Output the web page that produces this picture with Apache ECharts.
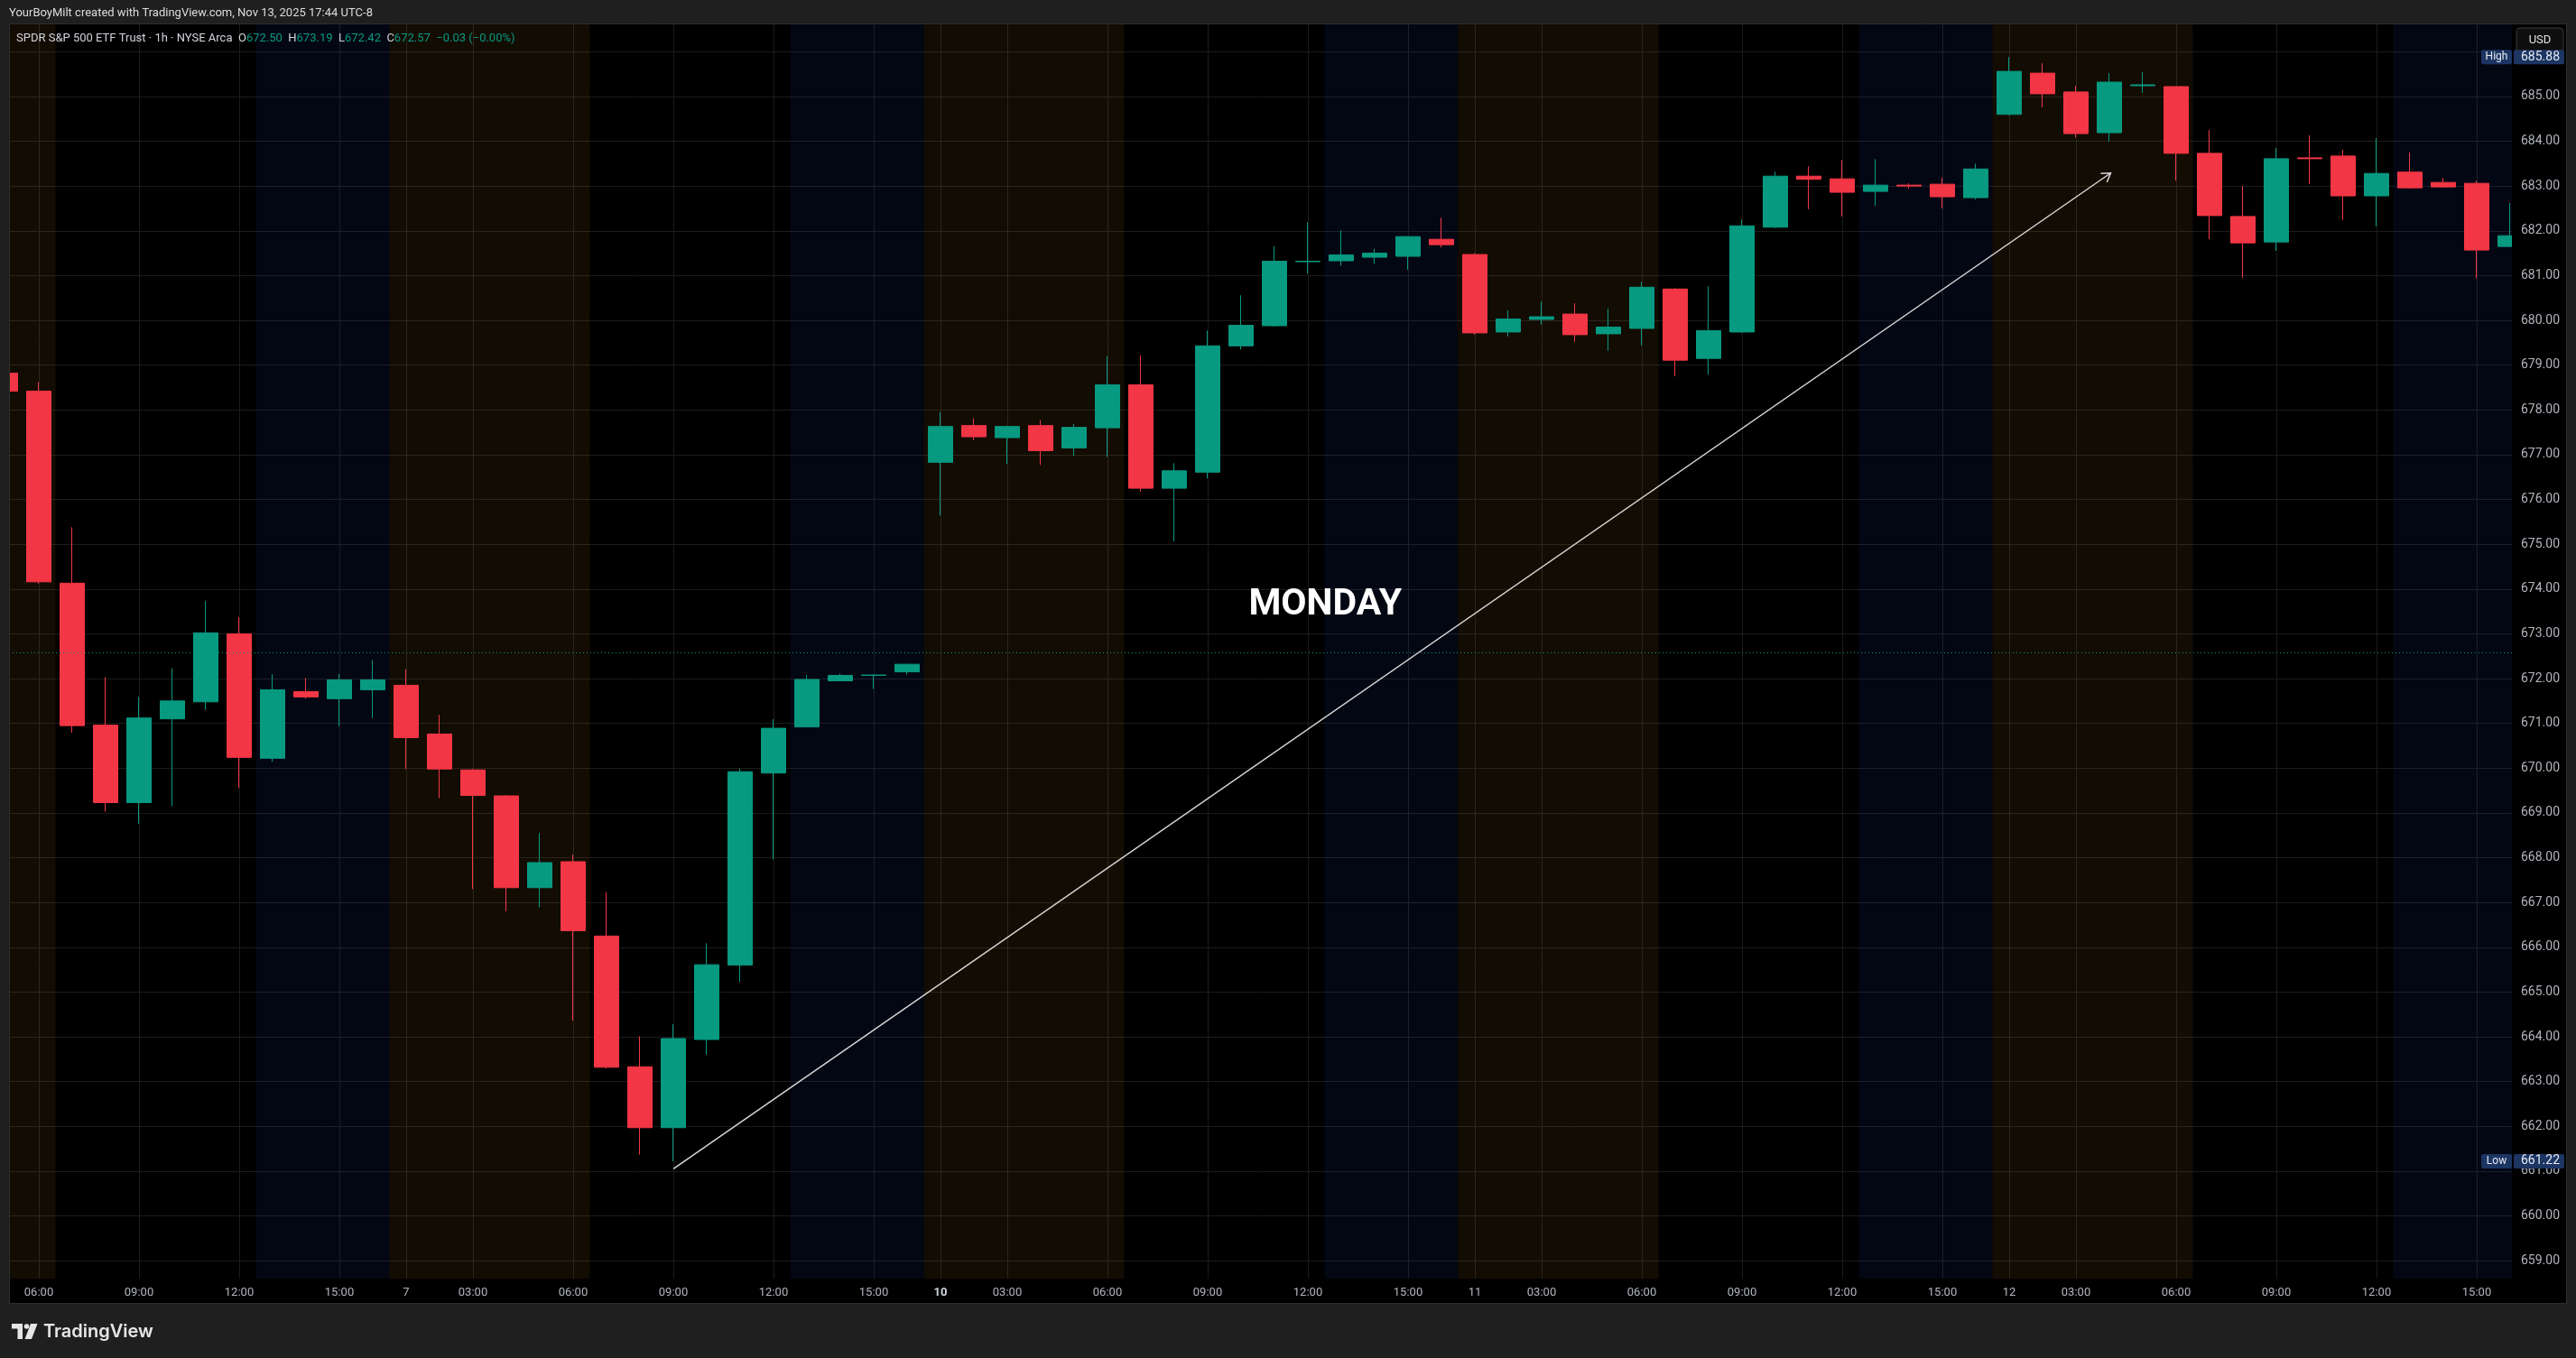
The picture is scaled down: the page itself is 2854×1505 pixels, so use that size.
<!DOCTYPE html>
<html>
<head>
<meta charset="utf-8">
<script src="https://cdn.jsdelivr.net/npm/echarts@6/dist/echarts.min.js"></script>
<style>
html,body{margin:0;padding:0;background:#1f1f1f;overflow:hidden;}
#c{width:2854px;height:1505px;}
</style>
</head>
<body>
<div id="c"></div>
<script>
// ---------- DATA ----------
const times = [
  '11-06 05:00','11-06 06:00','11-06 07:00','11-06 08:00','11-06 09:00','11-06 10:00','11-06 11:00','11-06 12:00','11-06 13:00','11-06 14:00','11-06 15:00','11-06 16:00',
  '11-07 01:00','11-07 02:00','11-07 03:00','11-07 04:00','11-07 05:00','11-07 06:00','11-07 07:00','11-07 08:00','11-07 09:00','11-07 10:00','11-07 11:00','11-07 12:00','11-07 13:00','11-07 14:00','11-07 15:00','11-07 16:00',
  '11-10 01:00','11-10 02:00','11-10 03:00','11-10 04:00','11-10 05:00','11-10 06:00','11-10 07:00','11-10 08:00','11-10 09:00','11-10 10:00','11-10 11:00','11-10 12:00','11-10 13:00','11-10 14:00','11-10 15:00','11-10 16:00',
  '11-11 01:00','11-11 02:00','11-11 03:00','11-11 04:00','11-11 05:00','11-11 06:00','11-11 07:00','11-11 08:00','11-11 09:00','11-11 10:00','11-11 11:00','11-11 12:00','11-11 13:00','11-11 14:00','11-11 15:00','11-11 16:00',
  '11-12 01:00','11-12 02:00','11-12 03:00','11-12 04:00','11-12 05:00','11-12 06:00','11-12 07:00','11-12 08:00','11-12 09:00','11-12 10:00','11-12 11:00','11-12 12:00','11-12 13:00','11-12 14:00','11-12 15:00','11-12 16:00'
];
const opens = [
  678.82,678.42,674.13,670.96,669.23,671.10,671.48,673.00,670.22,671.71,671.55,671.75,
  671.85,670.76,669.96,669.38,667.33,667.91,666.25,663.33,661.97,663.94,665.60,669.89,670.92,671.95,672.07,672.15,
  676.83,677.65,677.38,677.65,677.15,677.60,678.56,676.25,676.61,679.43,679.88,681.31,681.33,681.41,681.43,681.81,
  681.47,679.74,680.02,680.14,679.70,679.82,680.70,679.15,679.74,682.08,683.22,683.16,682.88,683.02,683.04,682.74,
  684.60,685.52,685.10,684.19,685.24,685.22,683.73,682.32,681.75,683.63,683.67,682.78,683.31,683.08,683.06,681.65
];
const highs = [
  678.88,678.62,675.38,672.03,671.59,672.23,673.73,673.37,672.10,672.01,672.10,672.41,
  672.21,671.19,669.98,669.40,668.55,668.07,667.23,664.01,664.28,666.09,669.99,671.09,672.08,672.11,672.09,672.33,
  677.95,677.81,677.64,677.77,677.69,679.20,679.22,676.81,679.77,680.56,681.66,682.19,682.01,681.60,681.88,682.29,
  681.50,680.22,680.42,680.38,680.26,680.86,680.72,680.76,682.25,683.32,683.44,683.58,683.60,683.06,683.18,683.50,
  685.88,685.74,685.24,685.52,685.54,685.23,684.25,683.00,683.85,684.13,683.81,684.07,683.75,683.18,683.12,682.62
];
const lows = [
  678.38,674.12,670.79,669.03,668.76,669.15,671.30,669.56,670.14,671.55,670.94,671.12,
  669.98,669.33,667.30,666.80,666.89,664.36,663.29,661.37,661.22,663.60,665.23,667.96,670.92,671.95,671.77,672.09,
  675.64,677.32,676.79,676.77,676.97,676.95,676.17,675.06,676.47,679.35,679.86,681.04,681.22,681.26,681.13,681.63,
  679.68,679.64,679.90,679.52,679.32,679.44,678.75,678.79,679.72,682.06,682.48,682.32,682.56,682.94,682.50,682.70,
  684.58,684.76,684.08,683.99,685.08,683.12,681.81,680.95,681.55,683.04,682.24,682.10,682.94,682.96,680.94,681.65
];
const closes = [
  678.42,674.16,670.95,669.23,671.12,671.50,673.02,670.24,671.75,671.59,671.97,671.97,
  670.68,669.98,669.39,667.33,667.89,666.37,663.32,661.97,663.96,665.61,669.92,670.89,671.98,672.07,672.08,672.32,
  677.63,677.40,677.63,677.09,677.61,678.56,676.25,676.64,679.43,679.89,681.32,681.32,681.46,681.50,681.87,681.69,
  679.72,680.03,680.08,679.68,679.85,680.74,679.11,679.77,682.11,683.22,683.15,682.86,683.02,683.00,682.76,683.38,
  685.56,685.06,684.17,685.32,685.26,683.73,682.34,681.73,683.61,683.61,682.78,683.28,682.96,682.98,681.57,681.89
];

// time-axis tick labels
const xTickTimes = [
  '11-06 06:00','11-06 09:00','11-06 12:00','11-06 15:00',
  '11-07 01:00','11-07 03:00','11-07 06:00','11-07 09:00','11-07 12:00','11-07 15:00',
  '11-10 01:00','11-10 03:00','11-10 06:00','11-10 09:00','11-10 12:00','11-10 15:00',
  '11-11 01:00','11-11 03:00','11-11 06:00','11-11 09:00','11-11 12:00','11-11 15:00',
  '11-12 01:00','11-12 03:00','11-12 06:00','11-12 09:00','11-12 12:00','11-12 15:00'
];
const xTickLabels = [
  '06:00','09:00','12:00','15:00',
  '7','03:00','06:00','09:00','12:00','15:00',
  '10','03:00','06:00','09:00','12:00','15:00',
  '11','03:00','06:00','09:00','12:00','15:00',
  '12','03:00','06:00','09:00','12:00','15:00'
];
const boldTickLabels = ['10'];

// price axis ticks / labels
const priceGridValues = [659,660,661,662,663,664,665,666,667,668,669,670,671,672,673,674,675,676,677,678,679,680,681,682,683,684,685,686];
const priceLabelValues = [659,660,661,662,663,664,665,666,667,668,669,670,671,672,673,674,675,676,677,678,679,680,681,682,683,684,685];

// sessions (hours of pre / post market bars)
const preMarketHours = ['01:00','02:00','03:00','04:00','05:00','06:00'];
const postMarketHours = ['13:00','14:00','15:00','16:00'];

// annotations
const lastPrice = 672.57;
const highValue = 685.88;
const lowValue = 661.22;
const arrowFrom = [20, 661.05];   // [bar index, price]
const arrowTo = [63.04, 683.29];
const noteText = 'MONDAY';
const noteAt = [39.52, 673.63];
const viewRange = [0.108, 75.054];  // visible bar-index window
const priceRange = [658.6, 686.61];

const headerText = 'YourBoyMilt created with TradingView.com, Nov 13, 2025 17:44 UTC-8';
const symbolText = 'SPDR S&P 500 ETF Trust · 1h · NYSE Arca';
const legendO = '672.50', legendH = '673.19', legendL = '672.42', legendC = '672.57', legendChg = '−0.03 (−0.00%)';

// ---------- BUILD ----------
const UP = '#089981', DOWN = '#f23645';
const FONT = 'Roboto, "Noto Sans", sans-serif';
const AXIS_TEXT = '#b2b5be';
const GRID_LINE = '#1c1c1c';

const candleData = times.map((t, i) => [i, opens[i], closes[i], lows[i], highs[i]]);
const tickIdx = xTickTimes.map(t => times.indexOf(t));
const tickLabelOf = {};
tickIdx.forEach((ix, k) => { tickLabelOf[ix] = xTickLabels[k]; });

// session bands from the bar hours
const bands = [];
let cur = null;
times.forEach((t, i) => {
  const h = t.slice(6);
  const kind = preMarketHours.includes(h) ? 'pre' : (postMarketHours.includes(h) ? 'post' : null);
  if (cur && cur.kind === kind && cur.end === i - 1) { cur.end = i; }
  else {
    if (cur) bands.push(cur);
    cur = kind ? {kind, start: i, end: i} : null;
  }
});
if (cur) bands.push(cur);
const bandColor = {pre: 'rgba(255,165,40,0.075)', post: 'rgba(41,98,255,0.075)'};
const markAreaData = bands.map(b => [
  {xAxis: b.start - 0.5, itemStyle: {color: bandColor[b.kind]}},
  {xAxis: b.end + 0.5}
]);

const chart = echarts.init(document.getElementById('c'), null, {width: 2854, height: 1505});

const yCommon = {type: 'value', position: 'right', min: priceRange[0], max: priceRange[1], axisLine: {show: false}};

chart.setOption({
  animation: false,
  backgroundColor: '#1f1f1f',
  grid: {left: 10, right: 71, top: 27, bottom: 88, containLabel: false},
  xAxis: {
    type: 'value',
    min: viewRange[0], max: viewRange[1],
    axisLine: {show: false},
    axisTick: {show: false, customValues: tickIdx},
    axisLabel: {
      customValues: tickIdx,
      color: AXIS_TEXT, fontSize: 13, fontFamily: FONT, margin: 9,
      formatter: v => {
        const s = tickLabelOf[Math.round(v)] || '';
        return boldTickLabels.includes(s) ? '{b|' + s + '}' : s;
      },
      rich: {b: {fontWeight: 'bold', fontSize: 13, color: '#d1d4dc', fontFamily: FONT}}
    },
    splitLine: {show: true, lineStyle: {color: GRID_LINE, width: 1}}
  },
  yAxis: [
    Object.assign({}, yCommon, {
      axisTick: {show: false, customValues: priceGridValues},
      axisLabel: {show: false},
      splitLine: {show: true, lineStyle: {color: GRID_LINE, width: 1}}
    }),
    Object.assign({}, yCommon, {
      z: 20,
      axisTick: {show: false},
      splitLine: {show: false},
      axisLabel: {
        customValues: priceLabelValues,
        color: AXIS_TEXT, fontSize: 14, fontFamily: FONT, margin: 10, align: 'left',
        formatter: v => Number(v).toFixed(2)
      }
    })
  ],
  series: [
    {
      type: 'candlestick',
      yAxisIndex: 0,
      data: candleData,
      barWidth: 28,
      itemStyle: {color: UP, color0: DOWN, borderColor: UP, borderColor0: DOWN, borderWidth: 1},
      markArea: {silent: true, data: markAreaData},
      markLine: {
        silent: true, symbol: ['none', 'none'],
        label: {show: false},
        lineStyle: {color: UP, type: [1, 3], width: 1},
        data: [{yAxis: lastPrice}]
      }
    },
    {
      type: 'custom',
      yAxisIndex: 0,
      z: 5,
      silent: true,
      data: [[arrowFrom[0], arrowFrom[1]]],
      renderItem: (params, api) => {
        const p0 = api.coord(arrowFrom), p1 = api.coord(arrowTo);
        const ang = Math.atan2(p1[1] - p0[1], p1[0] - p0[0]);
        const L = 11, a = Math.PI / 5.5;
        const h1 = [p1[0] - L * Math.cos(ang - a), p1[1] - L * Math.sin(ang - a)];
        const h2 = [p1[0] - L * Math.cos(ang + a), p1[1] - L * Math.sin(ang + a)];
        const t = api.coord(noteAt);
        return {
          type: 'group',
          children: [
            {type: 'line', shape: {x1: p0[0], y1: p0[1], x2: p1[0], y2: p1[1]}, style: {stroke: '#d8d8d8', lineWidth: 1.5, fill: 'none'}},
            {type: 'polyline', shape: {points: [h1, p1, h2]}, style: {stroke: '#d8d8d8', lineWidth: 1.5, fill: 'none'}},
            {type: 'text', x: t[0], y: t[1], style: {text: noteText, fill: '#ffffff', fontSize: 41, fontWeight: 'bold', fontFamily: FONT, align: 'center', verticalAlign: 'middle'}}
          ]
        };
      }
    }
  ]
});

// ---------- decorations positioned through the price scale ----------
const yHigh = chart.convertToPixel({yAxisIndex: 0}, highValue);
const yLow = chart.convertToPixel({yAxisIndex: 0}, lowValue);
const yTop = chart.convertToPixel({yAxisIndex: 0}, priceRange[1]);
const yBottom = chart.convertToPixel({yAxisIndex: 0}, priceRange[0]);
const plotLeft = chart.convertToPixel({xAxisIndex: 0}, viewRange[0]);
const plotRight = chart.convertToPixel({xAxisIndex: 0}, viewRange[1]);
const BOX = '#1c3563';
function extremeLabel(name, val, y) {
  return [
    {type: 'rect', z: 30, shape: {x: plotRight - 34, y: y - 8, width: 34, height: 16, r: 2}, style: {fill: BOX}},
    {type: 'text', z: 31, x: plotRight - 17, y: y, style: {text: name, fill: '#e6e9f0', fontSize: 12, fontFamily: FONT, align: 'center', verticalAlign: 'middle'}},
    {type: 'rect', z: 30, shape: {x: plotRight + 2, y: y - 8, width: 56, height: 16, r: 2}, style: {fill: BOX}},
    {type: 'text', z: 31, x: plotRight + 10, y: y, style: {text: val.toFixed(2), fill: '#e6e9f0', fontSize: 14, fontFamily: FONT, align: 'left', verticalAlign: 'middle'}}
  ];
}

const elements = [
  // pane background
  {type: 'rect', z: -10, silent: true, shape: {x: 10, y: 26, width: 2834, height: 1419}, style: {fill: '#000000'}},
  // cover overflow of partial candles: left frame strip and price-axis strip
  {type: 'rect', z: 15, silent: true, shape: {x: 0, y: yTop, width: plotLeft, height: yBottom - yTop}, style: {fill: '#1f1f1f'}},
  {type: 'rect', z: 15, silent: true, shape: {x: plotRight, y: yTop, width: 2843 - plotRight, height: yBottom - yTop}, style: {fill: '#000000'}},
  // pane border
  {type: 'rect', z: 16, silent: true, shape: {x: 10.5, y: 26.5, width: 2833, height: 1418}, style: {fill: 'none', stroke: '#2e2e2e', lineWidth: 1}},
  // header
  {type: 'text', z: 10, x: 10, y: 15, style: {text: headerText, fill: '#dcdcdc', fontSize: 13, fontFamily: FONT, verticalAlign: 'middle'}},
  // legend
  {type: 'text', z: 10, x: 18, y: 43, style: {
    text: '{n|' + symbolText + '  O}{v|' + legendO + '}{n|  H}{v|' + legendH + '}{n|  L}{v|' + legendL + '}{n|  C}{v|' + legendC + '}{v|  ' + legendChg + '}',
    verticalAlign: 'middle', fontSize: 13, fontFamily: FONT,
    rich: {
      n: {fill: '#d1d4dc', fontSize: 13, fontFamily: FONT},
      v: {fill: UP, fontSize: 13, fontFamily: FONT}
    }
  }},
  // USD button
  {type: 'rect', z: 30, shape: {x: 2788, y: 31, width: 52, height: 27, r: 4}, style: {fill: '#0f0f0f', stroke: '#3a3a3a', lineWidth: 1}},
  {type: 'text', z: 31, x: 2814, y: 44.5, style: {text: 'USD', fill: '#e0e0e0', fontSize: 13, fontFamily: FONT, align: 'center', verticalAlign: 'middle'}},
  // TradingView logo
  {type: 'polygon', z: 10, shape: {points: [[13, 1467], [25, 1467], [25, 1484], [19.5, 1484], [19.5, 1472.5], [13, 1472.5]]}, style: {fill: '#e6e6e6'}},
  {type: 'circle', z: 10, shape: {cx: 29.5, cy: 1470, r: 2.8}, style: {fill: '#e6e6e6'}},
  {type: 'polygon', z: 10, shape: {points: [[34, 1467], [41.5, 1467], [35, 1484], [27.5, 1484]]}, style: {fill: '#e6e6e6'}},
  {type: 'text', z: 10, x: 48, y: 1476, style: {text: 'TradingView', fill: '#e6e6e6', fontSize: 20, fontWeight: 600, fontFamily: 'Inter, Roboto, sans-serif', verticalAlign: 'middle'}}
].concat(extremeLabel('High', highValue, yHigh), extremeLabel('Low', lowValue, yLow));

chart.setOption({graphic: {elements: elements}});
</script>
</body>
</html>
